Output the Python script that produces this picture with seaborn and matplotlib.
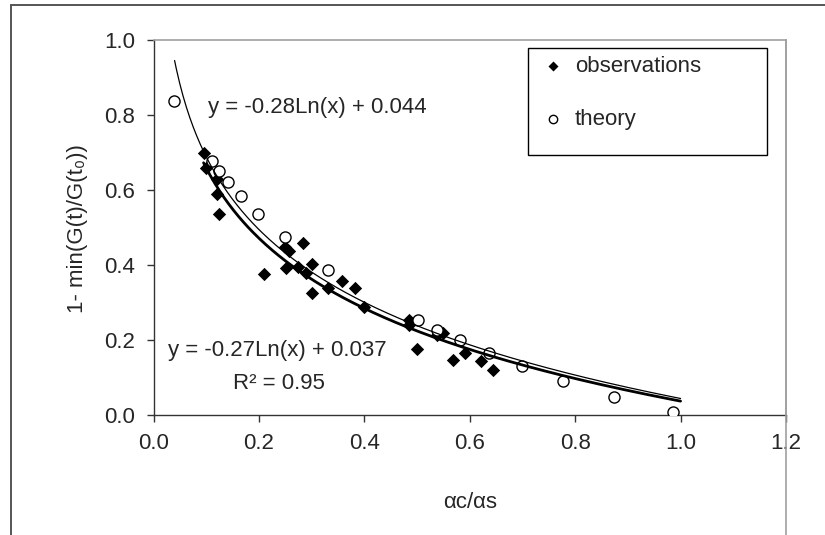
import numpy as np
import pandas as pd
import matplotlib
matplotlib.use("Agg")
import matplotlib.pyplot as plt
import seaborn as sns
from matplotlib.lines import Line2D

# ---------------- data ----------------
obs_x = [0.095, 0.099, 0.121, 0.120, 0.125, 0.209, 0.250, 0.257, 0.251, 0.283,
         0.274, 0.290, 0.300, 0.300, 0.332, 0.358, 0.383, 0.400, 0.484, 0.485,
         0.500, 0.537, 0.550, 0.568, 0.591, 0.621, 0.645]
obs_y = [0.698, 0.660, 0.630, 0.589, 0.537, 0.375, 0.449, 0.438, 0.391, 0.460,
         0.396, 0.378, 0.403, 0.326, 0.340, 0.358, 0.340, 0.288, 0.253, 0.240,
         0.177, 0.213, 0.218, 0.148, 0.166, 0.145, 0.121]
theory_x = [0.039, 0.111, 0.124, 0.141, 0.166, 0.198, 0.250, 0.331, 0.501, 0.538,
            0.582, 0.636, 0.699, 0.776, 0.874, 0.986]
theory_y = [0.838, 0.678, 0.651, 0.622, 0.583, 0.535, 0.475, 0.387, 0.253, 0.228,
            0.201, 0.165, 0.131, 0.091, 0.047, 0.008]

# logarithmic trendlines y = a*ln(x) + b
theory_fit = {"a": -0.28, "b": 0.044, "x0": 0.040, "x1": 1.0}
obs_fit = {"a": -0.27, "b": 0.037, "x0": 0.095, "x1": 1.0}

x_ticks = [0.0, 0.2, 0.4, 0.6, 0.8, 1.0, 1.2]
y_ticks = [0.0, 0.2, 0.4, 0.6, 0.8, 1.0]
eq_theory = "y = -0.28Ln(x) + 0.044"
eq_obs = "y = -0.27Ln(x) + 0.037"
r2_obs = "R\u00b2 = 0.95"
x_label = "\u03b1c/\u03b1s"
y_label = "1- min(G(t)/G(t\u2080))"

# ---------------- style ----------------
sns.set_style("white")
plt.rcParams["font.family"] = ["Liberation Sans", "DejaVu Sans"]
FS = 16

W, H = 825, 535
fig = plt.figure(figsize=(W / 100, H / 100), dpi=100)
fig.patch.set_facecolor("white")


def fx(px):
    return px / W


def fy(py):
    return 1 - py / H


L, R, T, B = 153.5, 786, 40, 415
ax = fig.add_axes([fx(L), fy(B), fx(R) - fx(L), fy(T) - fy(B)])
ax.set_facecolor("white")

obs_df = pd.DataFrame({"x": obs_x, "y": obs_y})
th_df = pd.DataFrame({"x": theory_x, "y": theory_y})

sns.scatterplot(data=obs_df, x="x", y="y", marker="D", s=46, color="black",
                edgecolor="black", linewidth=0, ax=ax, label="observations", zorder=3)
sns.scatterplot(data=th_df, x="x", y="y", marker="o", s=64, color="white",
                edgecolor="black", linewidth=1.0, ax=ax, label="theory", zorder=3)


def fit_df(f):
    xs = np.linspace(f["x0"], f["x1"], 300)
    return pd.DataFrame({"x": xs, "y": f["a"] * np.log(xs) + f["b"]})


sns.lineplot(data=fit_df(obs_fit), x="x", y="y", color="black", linewidth=2.0,
             ax=ax, legend=False, zorder=4)
sns.lineplot(data=fit_df(theory_fit), x="x", y="y", color="black", linewidth=0.9,
             ax=ax, legend=False, zorder=4)

ax.set_xlim(0, 1.2)
ax.set_ylim(0, 1.0)
ax.set_xticks(x_ticks)
ax.set_yticks(y_ticks)
ax.set_xticklabels([f"{v:.1f}" for v in x_ticks])
ax.set_yticklabels([f"{v:.1f}" for v in y_ticks])
ax.tick_params(axis="both", which="major", direction="out", length=5, width=1,
               color="#333333", labelsize=FS, pad=8, bottom=True, left=True)

for side in ("left", "bottom"):
    ax.spines[side].set_color("#333333")
    ax.spines[side].set_linewidth(1.0)
for side in ("top", "right"):
    ax.spines[side].set_color("#a0a0a0")
    ax.spines[side].set_linewidth(1.2)

ax.set_xlabel("")
ax.set_ylabel("")
fig.text(fx(77), fy(229), y_label, rotation=90, ha="center", va="center", fontsize=FS)
fig.text(fx(470), fy(502), x_label, ha="center", va="center", fontsize=FS)

# equations
ax.text(0.103, 0.819, eq_theory, ha="left", va="center", fontsize=FS)
ax.text(0.235, 0.173, eq_obs, ha="center", va="center", fontsize=FS)
ax.text(0.238, 0.085, r2_obs, ha="center", va="center", fontsize=FS)

# legend
leg = ax.legend(loc="upper left", bbox_to_anchor=(fx(541.5), fy(56)),
                bbox_transform=fig.transFigure, frameon=False, fontsize=FS,
                handlelength=1.0, handletextpad=0.5, labelspacing=1.45,
                borderpad=0, borderaxespad=0, markerscale=0.75)
fig.add_artist(plt.Rectangle((fx(528), fy(155)), fx(767) - fx(528), fy(48) - fy(155),
                             transform=fig.transFigure, fill=False,
                             edgecolor="black", linewidth=1.0))

# outer chart frame
fig.add_artist(Line2D([fx(11), fx(11)], [fy(5), 0], transform=fig.transFigure,
                      color="#555555", linewidth=1.4))
fig.add_artist(Line2D([fx(11), 1], [fy(5), fy(5)], transform=fig.transFigure,
                      color="#555555", linewidth=1.4))
fig.add_artist(Line2D([fx(R), fx(R)], [fy(T), 0], transform=fig.transFigure,
                      color="#a0a0a0", linewidth=1.2))

fig.savefig("out.png", dpi=100, facecolor="white")
